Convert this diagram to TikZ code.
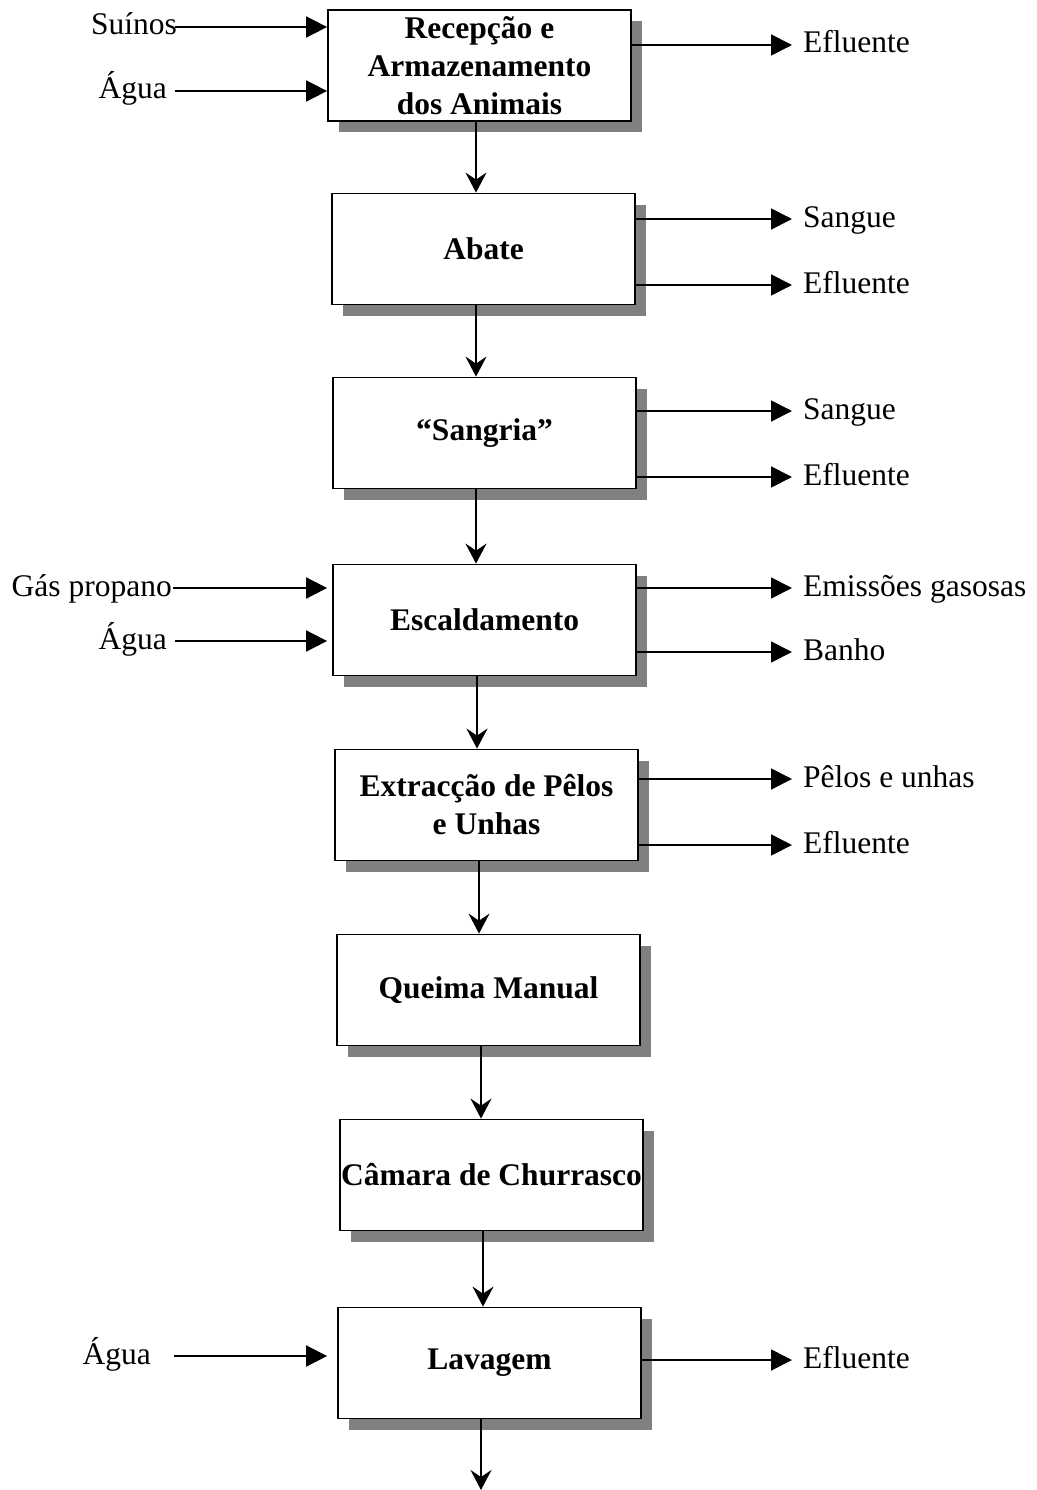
\documentclass[tikz,border=0pt]{standalone}
\usepackage{fontspec}
\setmainfont{Liberation Serif}
\usetikzlibrary{arrows.meta,shadows}
\definecolor{shadowgray}{HTML}{808080}
\begin{document}
\begin{tikzpicture}[x=1pt,y=-1pt,
  stepbox/.style={draw, line width=1.8pt, fill=white,
    minimum width=303pt, minimum height=111pt, inner sep=0pt, align=center,
    font=\bfseries\fontsize{31.5}{38}\selectfont,
    drop shadow={shadow xshift=11pt, shadow yshift=-11pt, fill=shadowgray, opacity=1}},
  lbl/.style={inner sep=0pt, font=\fontsize{31.5}{38}\selectfont,
    text height=22pt, text depth=6pt},
  down/.style={line width=1.8pt, -{Stealth[length=20pt,width=21pt,inset=7pt]}},
  side/.style={line width=1.8pt, -{Triangle[length=21pt,width=21pt]}}]

\useasboundingbox (0,0) rectangle (1036,1490);

% process steps
\node[stepbox] (b1) at (479.5,65.5) {Recepção e\\Armazenamento\\dos Animais};
\node[stepbox] (b2) at (483.5,249) {Abate};
\node[stepbox] (b3) at (484.5,433) {“Sangria”};
\node[stepbox] (b4) at (484.5,620) {Escaldamento};
\node[stepbox] (b5) at (486.5,805) {Extracção de Pêlos\\e Unhas};
\node[stepbox] (b6) at (488.5,990) {Queima Manual};
\node[stepbox] (b7) at (491.5,1175) {Câmara de Churrasco};
\node[stepbox] (b8) at (489.5,1363) {Lavagem};
\coordinate (fim) at (481,1490);

% main flow
\draw[down] ([xshift=-3.5pt]b1.south) -- ([xshift=-3.5pt]b1.south |- b2.north);
\draw[down] ([xshift=-7.5pt]b2.south) -- ([xshift=-7.5pt]b2.south |- b3.north);
\draw[down] ([xshift=-8.5pt]b3.south) -- ([xshift=-8.5pt]b3.south |- b4.north);
\draw[down] ([xshift=-7.5pt]b4.south) -- ([xshift=-7.5pt]b4.south |- b5.north);
\draw[down] ([xshift=-7.5pt]b5.south) -- ([xshift=-7.5pt]b5.south |- b6.north);
\draw[down] ([xshift=-7.5pt]b6.south) -- ([xshift=-7.5pt]b6.south |- b7.north);
\draw[down] ([xshift=-8.5pt]b7.south) -- ([xshift=-8.5pt]b7.south |- b8.north);
\draw[down] (fim |- b8.south) -- (fim);

% inputs
\node[lbl, anchor=east] (i1) at (177,27) {Suínos};
\node[lbl, anchor=east] (i2) at (167,91) {Água};
\node[lbl, anchor=east] (i3) at (172,588) {Gás propano};
\node[lbl, anchor=east] (i4) at (167,641) {Água};
\node[lbl, anchor=east] (i5) at (151,1356) {Água};

\draw[side] ([xshift=-2pt]i1.east) -- (b1.west |- i1.east);
\draw[side] ([xshift=8pt]i2.east) -- (b1.west |- i2.east);
\draw[side] ([xshift=1pt]i3.east) -- ([xshift=-5pt]b4.west |- i3.east);
\draw[side] ([xshift=8pt]i4.east) -- ([xshift=-5pt]b4.west |- i4.east);
\draw[side] ([xshift=23pt]i5.east) -- ([xshift=-10pt]b8.west |- i5.east);

% outputs
\node[lbl, anchor=west] (o1) at (803,45) {Efluente};
\node[lbl, anchor=west] (o2) at (803,219) {Sangue};
\node[lbl, anchor=west] (o3) at (803,285) {Efluente};
\node[lbl, anchor=west] (o4) at (803,411) {Sangue};
\node[lbl, anchor=west] (o5) at (803,477) {Efluente};
\node[lbl, anchor=west] (o6) at (803,588) {Emissões gasosas};
\node[lbl, anchor=west] (o7) at (803,652) {Banho};
\node[lbl, anchor=west] (o8) at (803,779) {Pêlos e unhas};
\node[lbl, anchor=west] (o9) at (803,845) {Efluente};
\node[lbl, anchor=west] (o10) at (803,1360) {Efluente};

\draw[side] (b1.east |- o1.west) -- ([xshift=-11pt]o1.west);
\draw[side] (b2.east |- o2.west) -- ([xshift=-11pt]o2.west);
\draw[side] (b2.east |- o3.west) -- ([xshift=-11pt]o3.west);
\draw[side] (b3.east |- o4.west) -- ([xshift=-11pt]o4.west);
\draw[side] (b3.east |- o5.west) -- ([xshift=-11pt]o5.west);
\draw[side] (b4.east |- o6.west) -- ([xshift=-11pt]o6.west);
\draw[side] (b4.east |- o7.west) -- ([xshift=-11pt]o7.west);
\draw[side] (b5.east |- o8.west) -- ([xshift=-11pt]o8.west);
\draw[side] (b5.east |- o9.west) -- ([xshift=-11pt]o9.west);
\draw[side] (b8.east |- o10.west) -- ([xshift=-11pt]o10.west);
\end{tikzpicture}
\end{document}
